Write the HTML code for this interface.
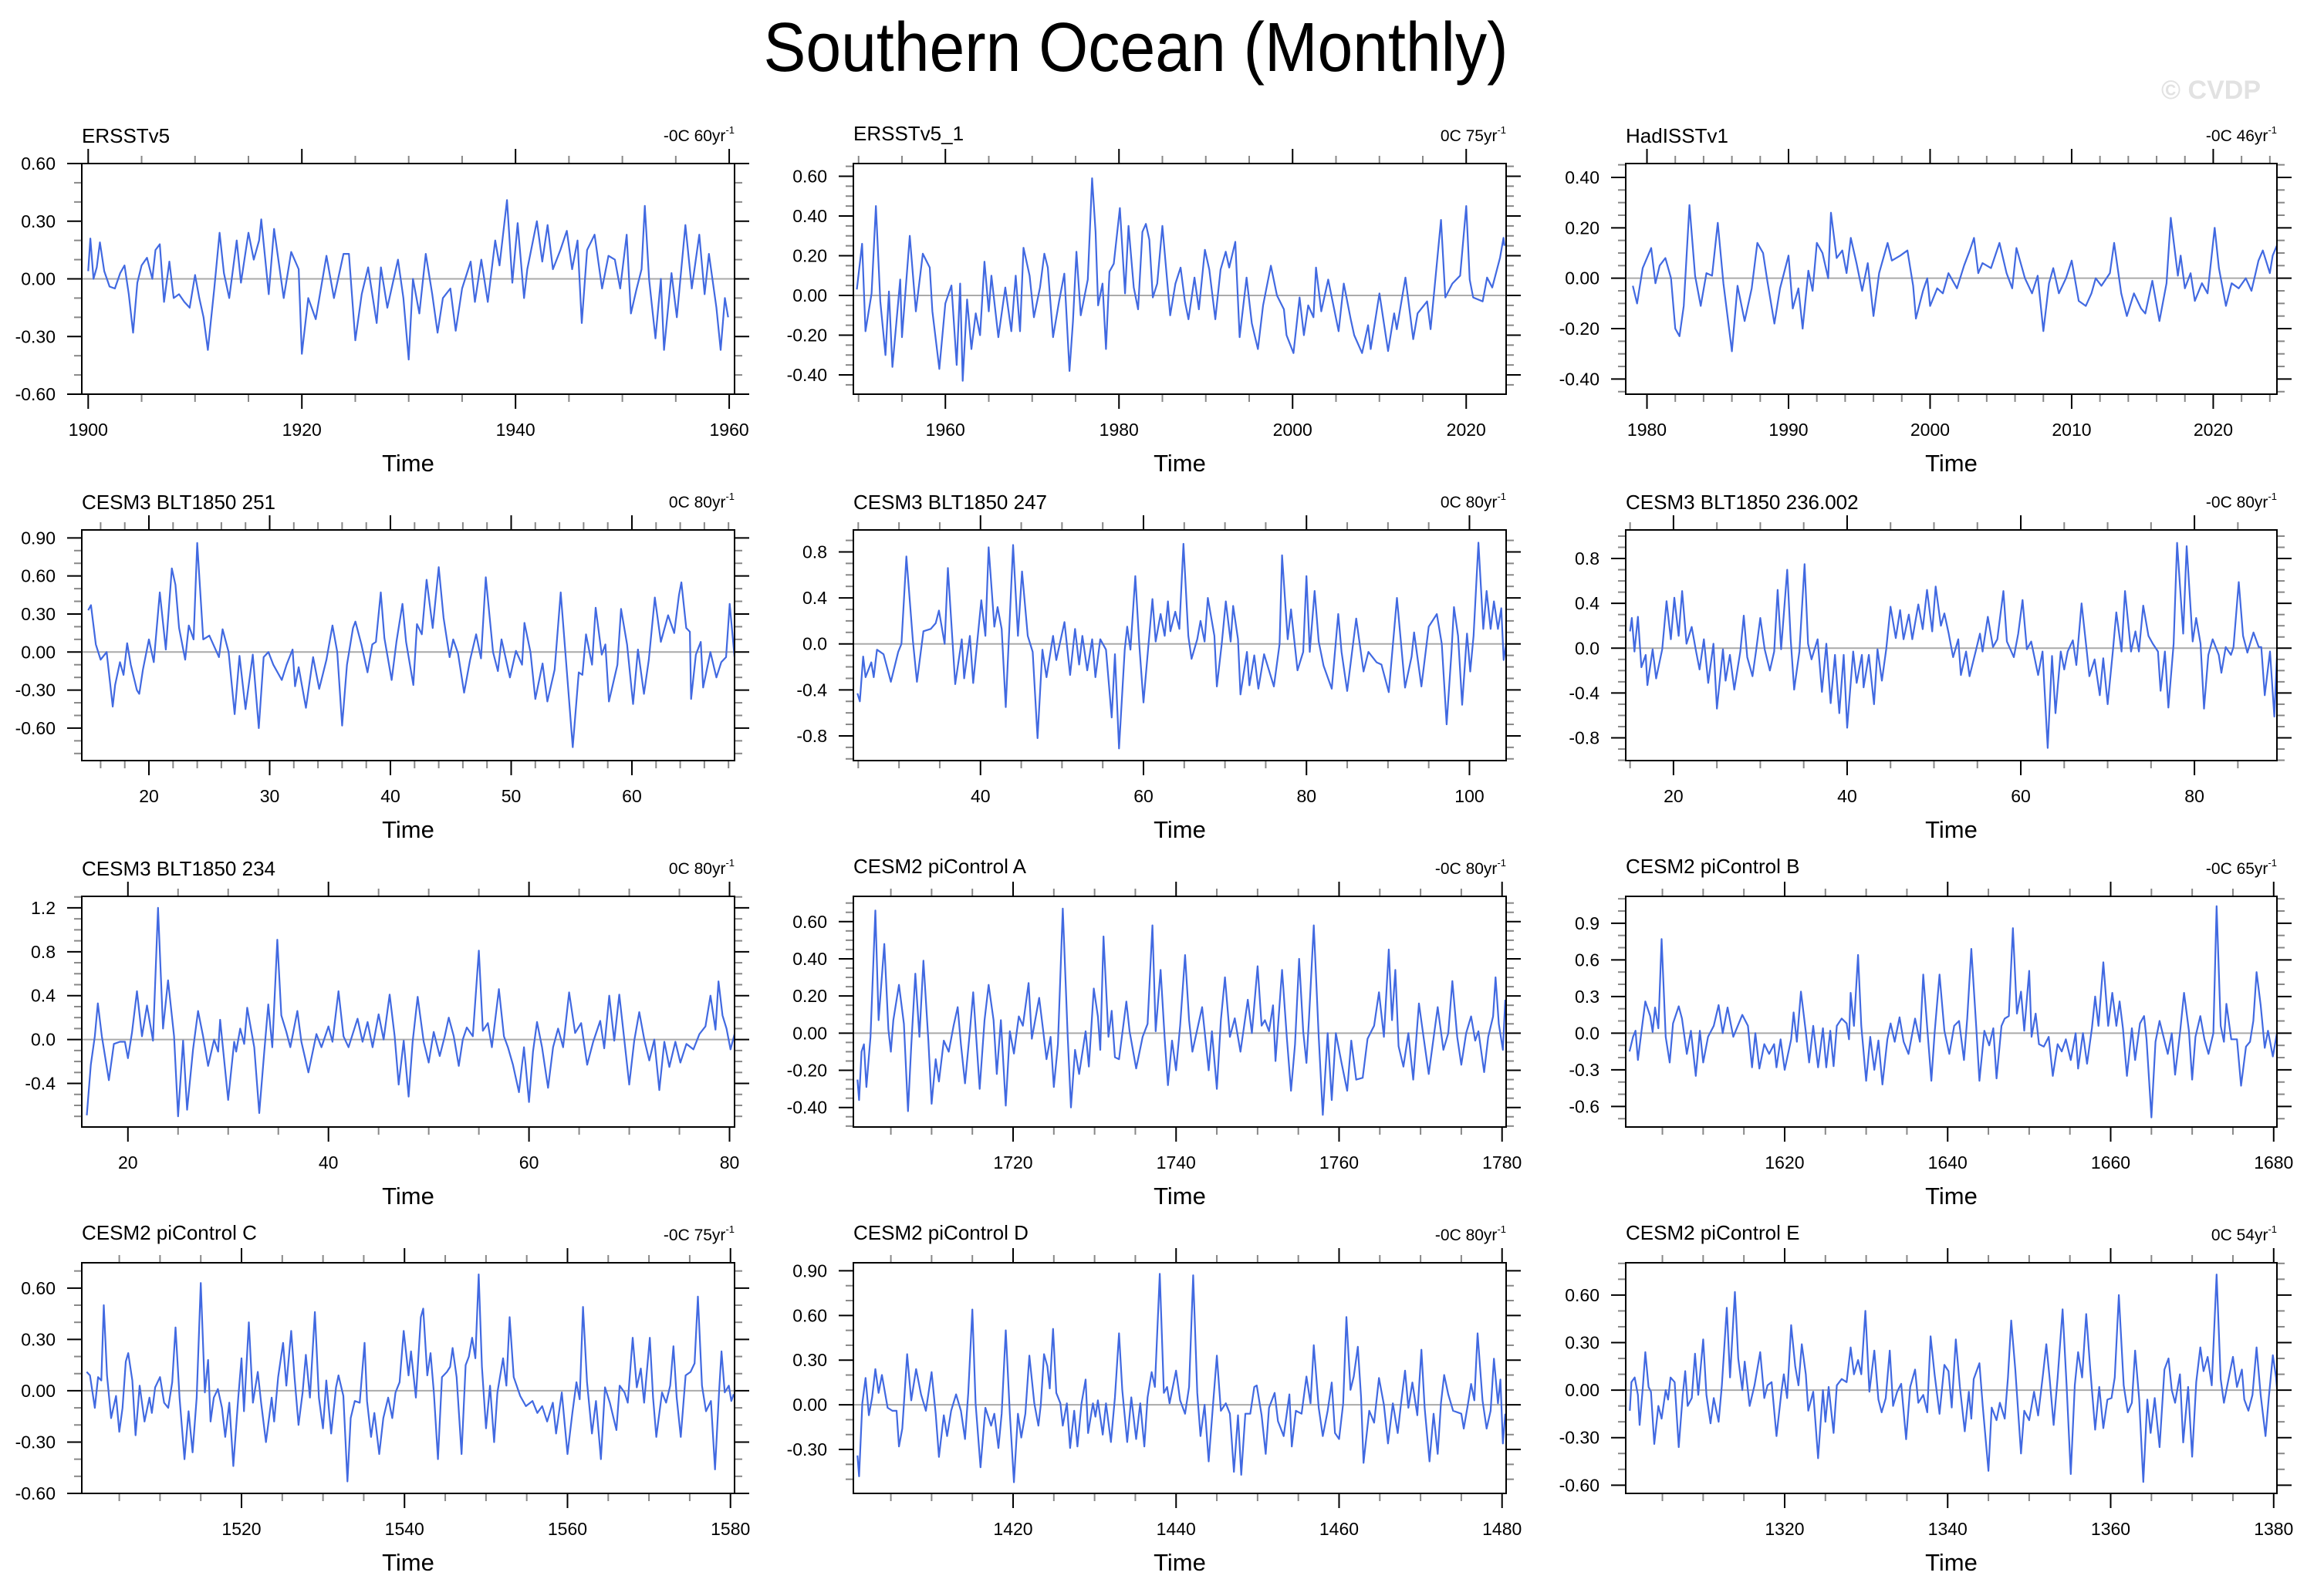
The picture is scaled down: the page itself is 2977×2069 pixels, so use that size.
<!DOCTYPE html>
<html><head><meta charset="utf-8"><title>Southern Ocean (Monthly)</title>
<style>
html,body{margin:0;padding:0;background:#fff;}
svg{display:block;font-family:"Liberation Sans",Arial,sans-serif;}
</style></head>
<body>
<svg id="chart" width="2977" height="2069" viewBox="0 0 2977 2069" xmlns="http://www.w3.org/2000/svg">
<rect width="2977" height="2069" fill="#fff"/>
<text x="1472" y="92" font-size="90" text-anchor="middle" textLength="965" lengthAdjust="spacingAndGlyphs" fill="#000">Southern Ocean (Monthly)</text>
<text x="2930" y="128" font-size="34" font-weight="bold" text-anchor="end" fill="#e2e2e2">© CVDP</text>
<g id="panels"></g>
</svg>
<script>
// ---- data: times (years) and anomaly values ----
const t1=[1900.0,1900.2,1900.5,1900.8,1901.1,1901.5,1902.0,1902.5,1903.0,1903.4,1903.8,1904.2,1904.6,1905.0,1905.5,1906.0,1906.3,1906.7,1907.1,1907.6,1908.0,1908.5,1909.0,1909.5,1910.0,1910.4,1910.8,1911.2,1911.8,1912.3,1912.7,1913.2,1913.9,1914.3,1915.0,1915.5,1916.0,1916.2,1916.9,1917.4,1918.3,1919.0,1919.7,1920.0,1920.6,1921.3,1922.3,1923.0,1923.9,1924.4,1925.0,1925.6,1926.2,1927.0,1927.4,1928.0,1929.0,1929.5,1930.0,1930.4,1931.0,1931.6,1932.2,1932.7,1933.2,1933.9,1934.4,1935.0,1935.8,1936.2,1936.8,1937.4,1938.1,1938.5,1939.2,1939.7,1940.2,1940.8,1941.1,1942.0,1942.5,1943.0,1943.5,1944.2,1944.8,1945.3,1945.8,1946.2,1946.7,1947.4,1948.1,1948.7,1949.3,1949.8,1950.4,1950.8,1951.3,1951.8,1952.1,1952.5,1953.1,1953.6,1953.9,1954.6,1955.1,1955.9,1956.5,1957.2,1957.7,1958.1,1958.8,1959.2,1959.6,1959.9];
const v1=[0.04,0.21,0.0,0.06,0.19,0.04,-0.04,-0.05,0.03,0.07,-0.08,-0.28,-0.02,0.07,0.11,0.0,0.15,0.18,-0.12,0.09,-0.10,-0.08,-0.12,-0.15,0.02,-0.10,-0.20,-0.37,-0.05,0.24,0.03,-0.10,0.20,-0.02,0.24,0.10,0.20,0.31,-0.08,0.26,-0.10,0.14,0.05,-0.39,-0.10,-0.21,0.12,-0.10,0.13,0.13,-0.32,-0.08,0.06,-0.23,0.06,-0.15,0.10,-0.10,-0.42,0.0,-0.18,0.13,-0.08,-0.28,-0.10,-0.05,-0.27,-0.05,0.09,-0.12,0.10,-0.12,0.20,0.07,0.41,-0.02,0.29,-0.10,0.05,0.30,0.09,0.28,0.05,0.15,0.25,0.05,0.20,-0.23,0.15,0.23,-0.05,0.12,0.10,-0.05,0.23,-0.18,-0.06,0.05,0.38,0.0,-0.31,0.0,-0.37,0.03,-0.20,0.28,-0.05,0.23,-0.08,0.13,-0.15,-0.37,-0.10,-0.20];

const t2=[1949.8,1950.4,1950.8,1951.5,1952.0,1952.5,1953.1,1953.5,1953.9,1954.8,1955.0,1955.9,1956.6,1957.4,1958.2,1958.5,1959.3,1960.0,1960.7,1961.3,1961.7,1962.0,1962.5,1963.0,1963.5,1964.0,1964.5,1965.0,1965.3,1966.1,1966.9,1967.6,1968.1,1968.6,1969.0,1969.7,1970.2,1970.9,1971.4,1971.8,1972.4,1973.1,1973.7,1974.3,1974.7,1975.1,1975.6,1976.4,1976.9,1977.3,1977.6,1978.1,1978.5,1978.9,1979.4,1980.1,1980.7,1981.1,1981.7,1982.2,1982.7,1983.1,1983.5,1983.9,1984.4,1985.0,1985.5,1985.9,1986.5,1987.1,1987.6,1988.0,1988.7,1989.2,1989.9,1990.4,1991.1,1991.7,1992.3,1992.7,1993.4,1993.9,1994.7,1995.3,1996.0,1996.6,1997.5,1998.2,1999.0,1999.3,2000.1,2000.8,2001.3,2001.8,2002.4,2002.7,2003.3,2004.1,2005.3,2005.9,2006.7,2007.1,2008.0,2008.7,2009.0,2010.0,2011.0,2011.7,2012.0,2013.0,2013.9,2014.4,2015.5,2015.9,2017.1,2017.6,2018.4,2019.3,2020.0,2020.4,2020.8,2021.9,2022.4,2023.0,2023.9,2024.3,2024.4];
const v2=[0.03,0.26,-0.18,0.01,0.45,-0.03,-0.30,0.02,-0.36,0.08,-0.21,0.30,-0.08,0.21,0.14,-0.08,-0.37,-0.04,0.05,-0.35,0.06,-0.43,-0.02,-0.27,-0.09,-0.20,0.17,-0.08,0.10,-0.21,0.04,-0.18,0.10,-0.18,0.24,0.10,-0.11,0.04,0.21,0.14,-0.21,-0.03,0.11,-0.38,-0.13,0.22,-0.10,0.08,0.59,0.32,-0.05,0.06,-0.27,0.12,0.16,0.44,0.01,0.35,0.04,-0.07,0.32,0.36,0.28,-0.01,0.06,0.35,0.10,-0.10,0.06,0.14,-0.03,-0.12,0.09,-0.07,0.23,0.13,-0.12,0.13,0.22,0.14,0.27,-0.21,0.09,-0.14,-0.27,-0.05,0.15,0.0,-0.07,-0.20,-0.29,-0.01,-0.20,-0.05,-0.11,0.14,-0.08,0.08,-0.18,0.06,-0.12,-0.20,-0.29,-0.15,-0.27,0.01,-0.28,-0.09,-0.17,0.09,-0.22,-0.09,-0.03,-0.17,0.38,-0.01,0.06,0.10,0.45,0.08,-0.01,-0.03,0.09,0.04,0.19,0.29,0.25];

const t3=[1979.0,1979.3,1979.7,1980.3,1980.6,1980.9,1981.3,1981.7,1982.0,1982.3,1982.6,1983.0,1983.4,1983.8,1984.2,1984.6,1985.0,1985.4,1986.0,1986.4,1986.9,1987.4,1987.8,1988.2,1988.5,1989.0,1989.4,1990.0,1990.3,1990.7,1991.0,1991.4,1991.7,1992.0,1992.4,1992.8,1993.0,1993.4,1993.8,1994.1,1994.4,1994.8,1995.2,1995.6,1996.0,1996.4,1997.0,1997.3,1997.9,1998.4,1998.8,1999.0,1999.5,1999.8,2000.0,2000.5,2000.9,2001.3,2001.9,2002.4,2002.8,2003.1,2003.4,2003.7,2004.3,2004.9,2005.4,2005.8,2006.1,2006.7,2007.2,2007.6,2008.0,2008.4,2008.7,2009.1,2009.6,2010.0,2010.5,2011.0,2011.4,2011.7,2012.1,2012.7,2013.0,2013.5,2013.9,2014.4,2014.9,2015.2,2015.7,2016.2,2016.7,2017.0,2017.5,2017.7,2018.0,2018.4,2018.7,2019.2,2019.6,2020.1,2020.4,2020.9,2021.3,2021.8,2022.3,2022.7,2023.2,2023.5,2024.0,2024.2,2024.5];
const v3=[-0.03,-0.10,0.04,0.12,-0.02,0.05,0.08,0.0,-0.20,-0.23,-0.11,0.29,0.01,-0.11,0.02,0.01,0.22,-0.02,-0.29,-0.03,-0.17,-0.04,0.14,0.10,-0.01,-0.18,-0.04,0.09,-0.12,-0.04,-0.20,0.03,-0.05,0.14,0.10,0.0,0.26,0.08,0.11,0.02,0.16,0.06,-0.05,0.06,-0.15,0.02,0.14,0.07,0.09,0.11,-0.03,-0.16,-0.05,0.0,-0.11,-0.04,-0.06,0.02,-0.04,0.05,0.11,0.16,0.02,0.06,0.04,0.14,0.02,-0.04,0.12,0.0,-0.06,0.01,-0.21,-0.02,0.04,-0.06,0.0,0.07,-0.09,-0.11,-0.06,0.0,-0.03,0.02,0.14,-0.06,-0.15,-0.06,-0.12,-0.14,-0.01,-0.17,-0.02,0.24,0.01,0.09,-0.04,0.02,-0.09,-0.02,-0.06,0.20,0.04,-0.11,-0.02,-0.04,0.0,-0.05,0.07,0.11,0.02,0.09,0.13];

const t4=[14.97,15.2,15.6,16.0,16.5,17.0,17.2,17.6,17.9,18.2,18.5,19.0,19.2,19.5,20.0,20.4,20.9,21.4,21.9,22.2,22.5,23.0,23.3,23.7,24.0,24.5,25.0,25.8,26.1,26.6,27.1,27.5,28.0,28.6,29.1,29.5,29.9,30.3,31.0,31.4,31.9,32.1,32.4,33.0,33.6,34.1,34.7,35.2,35.6,36.0,36.4,36.9,37.1,37.6,38.1,38.5,38.8,39.2,39.5,40.1,40.5,41.0,41.3,41.9,42.2,42.6,43.0,43.5,44.0,44.4,44.9,45.2,45.6,46.1,46.6,47.1,47.5,47.9,48.5,48.9,49.2,49.9,50.4,50.9,51.1,51.6,52.0,52.6,53.0,53.6,54.1,54.6,55.1,55.6,55.9,56.2,56.7,57.0,57.5,57.8,58.1,58.8,59.1,59.6,60.1,60.5,61.0,61.4,61.9,62.4,63.0,63.5,63.9,64.1,64.5,64.8,64.9,65.3,65.7,65.9,66.5,67.0,67.4,67.8,68.1,68.5];
const v4=[0.33,0.37,0.06,-0.06,0.0,-0.43,-0.26,-0.08,-0.18,0.07,-0.10,-0.30,-0.33,-0.14,0.10,-0.08,0.47,0.02,0.66,0.53,0.19,-0.06,0.21,0.10,0.86,0.10,0.13,-0.04,0.18,0.0,-0.49,-0.03,-0.45,-0.02,-0.60,-0.04,0.0,-0.10,-0.22,-0.10,0.02,-0.27,-0.12,-0.44,-0.04,-0.29,-0.06,0.21,0.0,-0.58,-0.10,0.19,0.24,0.06,-0.16,0.06,0.08,0.47,0.11,-0.22,0.08,0.38,0.08,-0.26,0.22,0.14,0.57,0.19,0.67,0.27,-0.04,0.10,-0.01,-0.32,-0.06,0.14,-0.05,0.59,0.0,-0.15,0.10,-0.20,0.01,-0.10,0.23,0.0,-0.37,-0.09,-0.39,-0.14,0.47,-0.14,-0.75,-0.16,-0.18,0.14,-0.10,0.35,-0.02,0.06,-0.39,-0.10,0.34,0.06,-0.41,0.02,-0.33,-0.06,0.43,0.08,0.29,0.15,0.45,0.55,0.19,0.16,-0.37,-0.02,0.08,-0.28,0.0,-0.20,-0.08,-0.04,0.38,-0.04];

const t5=[24.9,25.2,25.6,25.9,26.6,26.9,27.3,28.1,29.0,29.9,30.3,30.9,31.7,32.2,33.0,33.9,34.5,34.9,35.6,36.0,36.9,37.7,38.0,38.7,39.1,39.7,40.1,40.6,41.0,41.7,42.1,42.6,43.1,44.0,44.6,45.1,45.8,46.4,47.0,47.6,48.1,48.9,49.3,50.3,51.0,51.6,52.1,52.5,53.1,53.7,54.1,54.7,55.4,56.1,56.5,57.0,57.7,58.0,58.4,59.0,59.5,60.0,60.6,61.1,61.5,62.1,62.6,63.0,63.3,63.9,64.4,64.9,65.5,65.9,66.6,67.0,67.5,67.9,68.7,69.0,69.6,70.1,70.7,71.0,71.6,71.9,72.7,73.0,73.6,74.1,74.8,76.0,76.7,77.0,77.7,78.1,78.9,79.6,80.0,80.4,81.0,81.5,82.1,83.1,83.9,84.3,85.0,86.1,87.0,87.6,88.6,89.2,90.1,91.1,91.7,92.1,92.9,93.2,94.1,95.0,96.0,96.6,97.2,97.8,98.1,98.6,99.1,99.7,100.1,100.5,101.1,101.7,102.1,102.6,103.0,103.5,103.9,104.2,104.5];
const v5=[-0.43,-0.50,-0.11,-0.29,-0.16,-0.29,-0.05,-0.09,-0.33,-0.07,0.0,0.76,0.03,-0.33,0.11,0.13,0.18,0.29,0.0,0.66,-0.35,0.04,-0.30,0.07,-0.34,0.09,0.38,0.07,0.84,0.15,0.32,0.13,-0.55,0.86,0.07,0.63,0.07,-0.07,-0.82,-0.05,-0.29,0.07,-0.14,0.19,-0.27,0.13,-0.18,0.07,-0.23,0.04,-0.29,0.04,-0.05,-0.64,-0.09,-0.91,-0.05,0.15,-0.05,0.59,-0.02,-0.51,-0.02,0.39,0.02,0.26,0.07,0.37,0.11,0.28,0.13,0.87,0.07,-0.13,0.04,0.20,0.02,0.40,0.07,-0.37,0.0,0.37,0.02,0.33,0.04,-0.44,-0.07,-0.36,-0.10,-0.39,-0.09,-0.37,0.0,0.77,0.04,0.30,-0.23,-0.07,0.59,-0.07,0.46,0.02,-0.19,-0.39,0.26,-0.07,-0.41,0.22,-0.24,-0.07,-0.16,-0.18,-0.42,0.40,-0.07,-0.38,-0.11,0.10,-0.37,0.15,0.26,0.0,-0.70,-0.07,0.32,0.07,-0.53,0.09,-0.24,0.07,0.88,0.13,0.46,0.13,0.37,0.13,0.31,-0.14,0.0];

const t6=[15.0,15.2,15.5,15.9,16.3,16.8,17.0,17.6,18.0,18.7,19.2,19.7,20.1,20.6,21.0,21.5,22.1,22.6,23.0,23.5,24.0,24.6,25.0,25.7,26.0,26.5,27.0,27.7,28.1,28.5,29.1,29.5,30.0,30.5,31.1,31.6,32.0,32.4,33.1,33.5,33.9,34.5,35.1,35.5,35.9,36.6,37.1,37.6,38.1,38.6,39.1,39.6,40.0,40.7,41.1,41.7,41.9,42.5,43.1,43.5,44.0,44.5,45.0,45.6,46.1,46.5,47.1,47.5,48.2,48.7,49.2,49.8,50.2,50.8,51.2,51.7,52.2,52.8,53.1,53.7,54.1,54.8,55.3,55.6,56.2,56.8,57.3,58.0,58.4,59.2,59.7,60.2,60.7,61.2,62.0,62.5,63.1,63.6,64.0,64.6,65.0,65.4,66.0,66.4,67.0,67.6,67.9,68.5,69.1,69.5,70.0,70.6,71.0,71.6,72.0,72.7,73.2,73.6,74.1,74.7,75.2,75.8,76.1,76.6,77.0,77.6,78.0,78.7,79.1,79.8,80.2,80.7,81.1,81.6,82.1,82.8,83.1,83.6,84.2,84.5,85.1,85.6,86.1,86.8,87.4,87.7,88.1,88.7,89.2,89.5];
const v6=[0.15,0.27,-0.03,0.28,-0.17,-0.06,-0.33,-0.01,-0.27,-0.01,0.42,0.08,0.45,0.11,0.51,0.04,0.19,-0.03,-0.19,0.08,-0.31,0.04,-0.54,-0.01,-0.29,-0.06,-0.37,-0.03,0.29,-0.08,-0.25,-0.03,0.27,-0.01,-0.20,-0.03,0.52,-0.01,0.70,0.08,-0.37,-0.03,0.75,0.04,-0.10,0.08,-0.39,0.04,-0.49,-0.06,-0.58,-0.06,-0.71,-0.03,-0.31,-0.06,-0.35,-0.06,-0.50,-0.01,-0.29,-0.01,0.37,0.09,0.34,0.08,0.30,0.08,0.39,0.17,0.52,0.15,0.55,0.20,0.31,0.13,-0.08,0.08,-0.24,-0.03,-0.25,-0.03,0.13,-0.03,0.28,0.01,0.08,0.51,0.06,-0.08,0.13,0.43,-0.01,0.06,-0.24,-0.03,-0.89,-0.07,-0.58,-0.03,-0.19,-0.03,0.07,-0.15,0.40,-0.03,-0.25,-0.10,-0.42,-0.09,-0.50,-0.03,0.32,-0.03,0.51,-0.03,0.15,-0.03,0.38,0.11,0.04,-0.03,-0.38,-0.03,-0.53,0.04,0.94,0.13,0.91,0.06,0.27,0.04,-0.54,-0.06,0.08,-0.06,-0.22,0.01,-0.06,0.01,0.59,0.11,-0.04,0.14,0.01,0.01,-0.42,-0.03,-0.61,-0.08];

const t7=[15.9,16.3,16.7,17.0,17.4,18.1,18.6,19.2,19.7,20.0,20.4,20.9,21.4,21.9,22.5,23.0,23.5,24.0,24.6,25.0,25.5,25.9,26.5,27.0,27.5,28.0,28.6,29.0,29.2,30.0,30.6,30.8,31.2,31.6,31.9,32.6,33.1,33.6,34.0,34.4,34.9,35.3,35.8,36.2,36.9,37.3,38.0,38.8,39.3,40.0,40.4,41.0,41.5,42.0,42.9,43.4,43.9,44.4,45.0,45.5,46.1,46.6,47.0,47.5,48.0,48.4,48.9,49.5,50.0,50.5,51.1,51.6,52.0,52.5,53.0,53.4,53.8,54.4,55.0,55.4,55.9,56.3,57.0,57.5,57.9,58.4,59.0,59.5,60.0,60.4,60.8,61.3,61.9,62.4,62.9,63.4,64.0,64.6,65.2,65.8,66.4,67.1,67.5,68.0,68.5,69.0,69.5,70.0,70.5,71.0,71.5,72.0,72.5,73.0,73.5,74.0,74.6,75.1,75.7,76.4,77.0,77.6,78.1,78.6,78.9,79.3,79.7,80.1,80.5];
const v7=[-0.69,-0.23,0.03,0.33,0.03,-0.37,-0.04,-0.02,-0.02,-0.17,0.06,0.44,0.03,0.31,-0.01,1.20,0.10,0.54,0.03,-0.70,-0.01,-0.64,-0.09,0.26,0.03,-0.24,0.0,-0.11,0.18,-0.55,-0.02,-0.11,0.10,-0.04,0.29,-0.07,-0.67,-0.11,0.32,-0.07,0.91,0.22,0.07,-0.07,0.26,-0.02,-0.30,0.05,-0.07,0.12,-0.02,0.44,0.03,-0.07,0.19,-0.02,0.16,-0.07,0.23,0.0,0.41,0.03,-0.41,-0.01,-0.52,-0.02,0.39,-0.02,-0.21,0.07,-0.15,0.03,0.20,0.03,-0.24,0.0,0.11,0.03,0.81,0.08,0.15,-0.07,0.46,0.03,-0.07,-0.23,-0.48,-0.07,-0.57,-0.11,0.16,-0.07,-0.44,-0.07,0.10,-0.07,0.43,0.06,0.15,-0.23,-0.02,0.17,-0.08,0.40,-0.01,0.41,0.0,-0.41,-0.01,0.25,0.0,-0.19,0.0,-0.46,-0.02,-0.25,-0.02,-0.21,-0.04,-0.09,0.05,0.12,0.40,0.09,0.53,0.22,0.10,-0.09,0.05];

const t8=[1700.9,1701.1,1701.4,1701.7,1702.0,1702.5,1703.1,1703.5,1704.2,1704.7,1705.0,1705.3,1706.0,1706.6,1707.1,1707.5,1708.0,1708.5,1709.0,1709.6,1710.0,1710.5,1710.9,1711.5,1712.1,1712.7,1713.2,1713.6,1714.1,1714.7,1715.1,1715.9,1716.5,1717.0,1717.6,1718.0,1718.5,1719.1,1719.6,1720.1,1720.7,1721.2,1721.9,1722.3,1723.2,1723.7,1724.1,1724.6,1725.0,1725.5,1726.1,1726.7,1727.1,1727.6,1728.1,1728.9,1729.3,1729.9,1730.4,1730.7,1731.1,1731.7,1732.1,1732.5,1733.0,1733.9,1734.3,1735.1,1735.9,1736.5,1737.1,1737.5,1738.1,1738.6,1739.0,1739.5,1740.0,1740.5,1741.1,1741.6,1742.0,1742.6,1743.2,1744.0,1744.4,1745.0,1745.5,1746.0,1746.6,1747.2,1747.9,1748.8,1749.3,1750.0,1750.5,1750.9,1751.4,1751.9,1752.2,1753.0,1753.6,1754.1,1754.6,1755.1,1755.6,1756.0,1756.3,1756.9,1757.5,1758.0,1758.6,1759.1,1759.6,1760.3,1761.0,1761.5,1762.1,1762.9,1763.5,1764.3,1764.9,1765.5,1766.1,1766.5,1766.9,1767.3,1767.9,1768.5,1769.1,1769.8,1770.4,1771.0,1772.1,1772.8,1773.4,1773.9,1774.5,1775.0,1775.6,1776.2,1776.7,1777.1,1777.8,1778.3,1778.9,1779.2,1779.6,1780.1,1780.4];
const v8=[-0.25,-0.36,-0.10,-0.06,-0.29,-0.02,0.66,0.07,0.48,0.02,-0.10,0.07,0.26,0.05,-0.42,-0.07,0.32,-0.02,0.39,-0.04,-0.38,-0.14,-0.26,-0.04,-0.10,0.04,0.14,-0.06,-0.27,0.01,0.22,-0.30,0.07,0.26,0.07,-0.22,0.07,-0.39,0.01,-0.11,0.09,0.04,0.27,-0.03,0.19,0.01,-0.14,-0.02,-0.29,-0.06,0.67,-0.02,-0.40,-0.09,-0.22,0.01,-0.18,0.24,0.09,-0.09,0.52,-0.02,0.12,-0.13,-0.14,0.17,0.01,-0.19,-0.02,0.05,0.58,0.01,0.34,-0.03,-0.28,-0.04,-0.20,0.04,0.42,0.07,-0.10,0.02,0.14,-0.20,0.01,-0.30,0.07,0.30,-0.02,0.08,-0.10,0.18,0.0,0.36,0.04,0.07,0.01,0.15,-0.15,0.34,-0.03,-0.31,-0.06,0.40,0.01,-0.16,0.07,0.58,-0.02,-0.44,0.0,-0.36,0.0,-0.16,-0.31,-0.04,-0.25,-0.24,-0.03,0.04,0.22,-0.02,0.45,0.07,0.34,-0.07,-0.18,0.0,-0.25,0.16,-0.03,-0.22,0.14,-0.09,0.0,0.28,-0.02,-0.17,0.0,0.09,-0.04,0.01,-0.21,-0.02,0.09,0.30,0.05,-0.09,0.18];

const t9=[1600.96,1601.4,1601.7,1602.0,1602.4,1602.9,1603.5,1603.8,1604.1,1604.5,1604.9,1605.4,1605.9,1606.3,1607.0,1607.4,1608.0,1608.5,1609.1,1609.6,1610.0,1610.6,1611.3,1611.9,1612.4,1613.0,1613.7,1614.8,1615.5,1616.0,1616.4,1616.9,1617.5,1618.1,1618.7,1619.0,1619.5,1620.0,1620.8,1621.1,1621.5,1622.0,1622.6,1623.0,1623.5,1624.1,1624.7,1625.1,1625.6,1626.0,1626.4,1627.0,1627.6,1627.9,1628.1,1628.5,1629.0,1629.4,1630.0,1630.5,1631.0,1631.5,1632.0,1632.6,1633.0,1633.5,1634.1,1634.6,1635.2,1636.0,1636.6,1637.0,1637.5,1638.0,1638.4,1639.0,1639.6,1640.2,1640.8,1641.4,1642.0,1642.4,1642.9,1643.5,1643.9,1644.5,1645.1,1645.6,1646.0,1646.6,1647.0,1647.5,1648.0,1648.5,1649.0,1649.4,1650.0,1650.3,1650.8,1651.2,1651.8,1652.4,1652.9,1653.5,1654.0,1654.5,1655.1,1655.7,1656.0,1656.6,1657.1,1657.7,1658.1,1658.5,1659.1,1659.7,1660.2,1660.7,1661.1,1661.5,1662.0,1662.6,1663.0,1663.6,1664.1,1664.4,1665.0,1665.5,1666.0,1666.6,1667.0,1667.5,1667.9,1668.5,1669.0,1669.6,1670.0,1670.4,1671.0,1671.5,1672.0,1672.6,1673.0,1673.5,1673.9,1674.2,1674.8,1675.5,1676.0,1676.6,1677.1,1677.5,1677.9,1678.4,1678.9,1679.3,1679.9,1680.4];
const v9=[-0.15,-0.03,0.02,-0.22,0.0,0.26,0.14,0.01,0.21,0.04,0.77,-0.03,-0.24,0.08,0.22,0.12,-0.17,0.02,-0.35,0.02,-0.24,-0.03,0.06,0.23,0.0,0.21,-0.03,0.15,0.06,-0.28,0.0,-0.29,-0.09,-0.17,-0.09,-0.28,-0.05,-0.30,-0.05,0.17,-0.07,0.34,0.01,-0.24,0.06,-0.28,0.04,-0.28,0.02,-0.27,0.06,0.12,0.08,-0.05,0.33,0.06,0.64,0.06,-0.39,-0.03,-0.30,-0.06,-0.42,-0.05,0.08,-0.07,0.13,-0.07,-0.17,0.12,-0.07,0.48,0.04,-0.39,0.0,0.48,0.02,-0.17,0.06,0.10,-0.22,0.12,0.69,0.06,-0.39,0.02,-0.10,0.04,-0.37,0.06,0.12,0.14,0.86,0.16,0.34,0.02,0.51,-0.03,0.16,-0.09,-0.11,-0.03,-0.35,-0.09,-0.15,-0.05,-0.22,0.0,-0.29,0.0,-0.25,0.04,0.30,0.06,0.58,0.06,0.33,0.06,0.26,0.04,-0.35,0.04,-0.22,0.08,0.14,-0.05,-0.69,-0.07,0.10,-0.06,-0.17,0.0,-0.34,0.0,0.33,0.02,-0.38,-0.03,0.14,-0.05,-0.17,0.0,1.04,0.06,-0.07,0.24,-0.05,-0.05,-0.43,-0.11,-0.07,0.10,0.50,0.23,-0.12,0.02,-0.19,0.0];

const t10=[1501.0,1501.4,1502.0,1502.4,1502.8,1503.1,1503.5,1504.0,1504.6,1505.0,1505.4,1505.8,1506.1,1506.6,1507.0,1507.5,1508.1,1508.7,1509.0,1509.4,1510.0,1510.5,1511.0,1511.5,1511.9,1512.4,1513.0,1513.5,1514.0,1514.5,1515.0,1515.5,1515.9,1516.2,1516.6,1517.1,1517.6,1518.0,1518.5,1519.0,1519.6,1520.0,1520.3,1520.9,1521.4,1522.0,1522.4,1523.0,1523.7,1524.0,1524.5,1525.1,1525.5,1526.1,1526.5,1527.0,1527.5,1527.9,1528.4,1529.0,1529.5,1530.0,1530.4,1531.0,1531.6,1531.9,1532.5,1533.0,1533.4,1533.9,1534.5,1535.1,1535.4,1535.9,1536.3,1536.9,1537.4,1538.0,1538.5,1538.9,1539.4,1539.9,1540.5,1540.8,1541.4,1542.0,1542.3,1542.8,1543.2,1543.6,1544.1,1544.6,1545.2,1545.6,1545.9,1546.4,1547.0,1547.5,1547.9,1548.3,1548.7,1549.1,1549.5,1550.0,1550.5,1551.0,1551.4,1552.1,1552.5,1552.9,1553.4,1554.2,1554.9,1555.7,1556.3,1556.9,1557.5,1558.2,1558.6,1559.3,1560.0,1560.6,1561.1,1561.5,1561.9,1562.4,1563.0,1563.5,1564.1,1564.6,1565.2,1566.0,1566.4,1567.0,1567.4,1568.0,1568.5,1569.0,1569.4,1570.1,1570.5,1570.9,1571.6,1572.1,1572.6,1573.0,1573.4,1573.9,1574.5,1575.1,1575.6,1576.0,1576.5,1577.0,1577.6,1578.1,1578.6,1578.9,1579.3,1579.8,1580.1,1580.4];
const v10=[0.11,0.09,-0.10,0.08,0.06,0.50,0.09,-0.16,-0.03,-0.24,-0.10,0.17,0.22,0.06,-0.26,0.03,-0.18,-0.04,-0.13,0.02,0.08,-0.07,-0.10,0.05,0.37,-0.04,-0.40,-0.12,-0.36,-0.04,0.63,-0.01,0.18,-0.18,-0.04,0.01,-0.10,-0.27,-0.07,-0.44,-0.04,0.19,-0.12,0.40,-0.07,0.11,-0.07,-0.30,-0.04,-0.18,0.08,0.28,0.03,0.35,0.08,-0.20,-0.01,0.21,-0.04,0.46,-0.04,-0.22,0.06,-0.25,0.02,0.09,-0.03,-0.53,-0.16,-0.06,-0.07,0.28,-0.06,-0.27,-0.13,-0.37,-0.16,-0.04,-0.16,-0.01,0.05,0.35,0.09,0.23,-0.04,0.43,0.48,0.09,0.22,-0.01,-0.40,0.08,0.11,0.14,0.25,0.08,-0.37,0.15,0.20,0.31,0.19,0.68,0.14,-0.22,0.03,-0.30,-0.01,0.19,0.03,0.43,0.08,-0.03,-0.09,-0.06,-0.13,-0.09,-0.18,-0.07,-0.25,-0.01,-0.37,-0.13,0.05,-0.05,0.49,0.05,-0.25,-0.06,-0.40,0.02,-0.07,-0.23,0.03,-0.01,-0.07,0.31,0.02,0.13,-0.07,0.31,-0.04,-0.27,-0.01,-0.07,0.03,0.26,-0.04,-0.27,0.09,0.11,0.16,0.55,0.03,-0.12,-0.06,-0.46,-0.01,0.23,-0.01,0.03,-0.06,-0.02];

const t11=[1400.9,1401.1,1401.5,1401.9,1402.3,1402.7,1403.1,1403.5,1403.9,1404.6,1405.2,1405.7,1406.0,1406.4,1407.0,1407.5,1408.1,1408.7,1409.3,1410.0,1410.5,1410.9,1411.5,1411.9,1412.4,1413.0,1413.6,1414.1,1414.5,1415.0,1415.4,1416.0,1416.6,1417.3,1417.7,1418.2,1418.6,1419.1,1419.6,1420.1,1420.6,1421.0,1421.5,1422.0,1422.6,1423.1,1423.4,1423.8,1424.2,1424.5,1424.9,1425.3,1425.8,1426.1,1426.6,1427.0,1427.5,1427.9,1428.4,1428.9,1429.2,1429.8,1430.1,1430.4,1431.0,1431.4,1432.0,1432.5,1433.0,1433.4,1434.0,1434.5,1435.1,1435.6,1436.1,1436.5,1437.0,1437.4,1438.0,1438.5,1438.9,1439.2,1440.0,1440.5,1441.1,1441.6,1442.1,1442.6,1443.0,1443.5,1444.0,1444.5,1445.0,1445.5,1446.1,1446.6,1447.1,1447.6,1448.0,1448.5,1449.1,1449.6,1449.9,1450.5,1451.0,1451.4,1452.1,1452.5,1453.2,1453.9,1454.2,1454.7,1455.4,1456.0,1456.5,1456.9,1457.5,1458.0,1458.6,1459.1,1459.5,1460.0,1460.5,1460.9,1461.4,1461.8,1462.3,1462.7,1463.0,1463.7,1464.3,1464.9,1465.5,1466.0,1466.6,1467.2,1467.6,1468.1,1468.5,1469.0,1469.6,1470.1,1470.5,1471.1,1471.6,1472.1,1472.5,1472.9,1473.4,1474.0,1475.0,1475.3,1475.8,1476.2,1476.6,1477.0,1477.6,1478.1,1478.6,1479.0,1479.5,1479.8,1480.1,1480.4];
const v11=[-0.34,-0.48,0.01,0.18,-0.07,0.05,0.24,0.08,0.20,-0.02,-0.04,-0.04,-0.28,-0.16,0.34,0.03,0.24,0.07,-0.04,0.22,-0.06,-0.35,-0.07,-0.21,-0.04,0.07,-0.04,-0.23,0.08,0.64,0.01,-0.42,-0.02,-0.14,-0.06,-0.29,-0.06,0.50,-0.06,-0.52,-0.06,-0.22,-0.06,0.33,0.01,-0.14,0.0,0.34,0.26,0.11,0.51,0.08,0.01,-0.14,0.01,-0.29,-0.04,-0.28,0.01,0.17,-0.19,0.01,-0.08,0.03,-0.20,0.01,-0.25,0.05,0.48,0.10,-0.25,0.05,-0.23,0.01,-0.28,0.05,0.22,0.12,0.88,0.08,0.12,0.01,0.23,0.03,-0.06,0.12,0.87,0.08,-0.21,0.0,-0.38,-0.02,0.33,-0.04,0.01,-0.06,-0.45,-0.07,-0.47,-0.06,-0.06,0.12,0.13,-0.07,-0.33,-0.02,0.08,-0.11,-0.21,0.07,-0.28,-0.04,-0.06,0.19,0.01,0.40,-0.02,-0.21,-0.04,0.15,-0.19,-0.23,0.01,0.59,0.10,0.19,0.39,0.05,-0.39,-0.04,-0.12,0.18,0.0,-0.26,0.01,-0.19,0.01,0.23,-0.02,0.15,-0.07,0.37,-0.02,-0.38,-0.06,-0.33,0.01,0.20,0.07,-0.04,-0.06,-0.16,0.0,0.14,0.03,0.48,0.03,-0.16,-0.04,0.31,0.01,0.17,-0.26,-0.06];

const t12=[1301.0,1301.2,1301.6,1302.0,1302.2,1302.6,1302.9,1303.3,1303.6,1304.0,1304.5,1304.9,1305.4,1305.7,1306.0,1306.5,1307.0,1307.5,1307.8,1308.1,1308.6,1309.0,1309.4,1310.0,1310.4,1310.9,1311.3,1311.9,1312.3,1312.9,1313.3,1313.9,1314.3,1314.8,1315.1,1315.7,1316.3,1317.0,1317.5,1317.9,1318.4,1319.0,1319.6,1319.9,1320.3,1320.8,1321.3,1321.7,1322.1,1322.6,1322.9,1323.5,1324.1,1324.7,1325.0,1325.4,1326.0,1326.4,1327.0,1327.6,1328.1,1328.5,1329.0,1329.4,1329.9,1330.4,1331.0,1331.5,1331.9,1332.4,1332.9,1333.3,1333.8,1334.3,1334.9,1335.4,1336.0,1336.4,1337.0,1337.5,1337.9,1338.4,1339.0,1339.6,1340.1,1340.5,1341.0,1341.5,1342.1,1342.6,1342.9,1343.2,1343.9,1344.3,1345.0,1345.4,1346.0,1346.4,1347.0,1347.4,1347.8,1348.3,1349.0,1349.4,1350.0,1350.6,1351.1,1351.7,1352.1,1352.5,1353.0,1353.5,1354.1,1354.6,1355.1,1355.6,1356.0,1356.5,1357.0,1357.5,1358.1,1358.6,1359.1,1359.6,1360.1,1360.5,1361.0,1361.6,1362.1,1362.6,1363.0,1363.5,1364.0,1364.5,1364.9,1365.4,1366.0,1366.6,1367.1,1367.5,1367.9,1368.5,1368.9,1369.5,1370.0,1370.5,1371.0,1371.4,1371.9,1372.4,1373.0,1373.5,1373.9,1374.5,1375.0,1375.5,1376.1,1376.4,1376.9,1377.4,1377.9,1378.4,1379.0,1379.4,1379.9,1380.3,1380.5];
const v12=[-0.13,0.05,0.08,-0.03,-0.22,0.02,0.24,0.02,-0.01,-0.34,-0.10,-0.18,0.0,-0.06,0.08,0.05,-0.36,-0.03,0.12,-0.10,-0.05,0.23,-0.03,0.32,-0.03,-0.21,-0.05,-0.20,0.03,0.52,0.08,0.62,0.20,0.0,0.18,-0.10,0.03,0.24,-0.05,0.03,0.05,-0.29,-0.01,0.10,-0.05,0.41,0.15,0.03,0.29,0.10,-0.13,-0.01,-0.43,0.0,-0.20,0.02,-0.27,0.03,0.07,0.05,0.27,0.10,0.19,0.10,0.50,-0.01,0.25,-0.06,-0.14,-0.05,0.25,-0.10,-0.01,0.04,-0.31,0.02,0.13,-0.08,-0.03,-0.14,0.34,0.10,-0.15,0.16,0.12,-0.11,0.32,0.02,-0.26,-0.01,-0.18,0.07,0.17,-0.10,-0.51,-0.11,-0.19,-0.08,-0.18,0.08,0.44,0.13,-0.40,-0.13,-0.19,-0.01,-0.16,0.10,0.29,0.08,-0.22,0.08,0.51,0.02,-0.53,0.03,0.24,0.08,0.48,0.13,-0.25,0.02,-0.24,-0.06,-0.05,0.08,0.60,0.03,-0.14,-0.08,0.25,-0.06,-0.58,-0.06,-0.27,-0.05,-0.36,0.13,0.20,0.0,-0.08,0.10,-0.33,0.02,-0.42,0.05,0.27,0.12,0.21,0.03,0.73,0.07,-0.08,0.08,0.21,0.02,0.13,-0.06,-0.13,-0.03,0.27,-0.03,-0.29,-0.05,0.22,0.08,-0.05];

// ---- panel metadata ----
const panelTitles=["ERSSTv5","ERSSTv5_1","HadISSTv1","CESM3 BLT1850 251","CESM3 BLT1850 247","CESM3 BLT1850 236.002","CESM3 BLT1850 234","CESM2 piControl A","CESM2 piControl B","CESM2 piControl C","CESM2 piControl D","CESM2 piControl E"];
const trendLabels=["-0C 60yr","0C 75yr","-0C 46yr","0C 80yr","0C 80yr","-0C 80yr","0C 80yr","-0C 80yr","-0C 65yr","-0C 75yr","-0C 80yr","0C 54yr"];
const xDomains=[[1899.4,1960.5],[1949.4,2024.6],[1978.5,2024.5],[14.44,68.5],[24.4,104.5],[14.5,89.5],[15.4,80.5],[1700.4,1780.5],[1600.5,1680.4],[1500.4,1580.5],[1400.4,1480.5],[1300.5,1380.4]];
const yDomains=[[-0.6,0.6],[-0.497,0.664],[-0.46,0.455],[-0.856,0.963],[-1.015,0.991],[-1.003,1.055],[-0.797,1.305],[-0.505,0.736],[-0.768,1.12],[-0.6,0.748],[-0.595,0.954],[-0.652,0.804]];
const yMajor=[0.3,0.2,0.2,0.3,0.4,0.4,0.4,0.2,0.3,0.3,0.3,0.3];
const yMinor=[0.1,0.05,0.05,0.1,0.1,0.1,0.1,0.05,0.1,0.1,0.1,0.1];
const yDec=[2,2,2,2,1,1,1,2,1,2,2,2];
const xMajor=[20,20,10,10,20,20,20,20,20,20,20,20];
const xMinor=[5,5,2,2,5,5,5,5,5,5,5,5];
const titleRaise=[0,3,0,0,0,0,0,3,3,3,3,3];
const seriesT=[t1,t2,t3,t4,t5,t6,t7,t8,t9,t10,t11,t12];
const seriesV=[v1,v2,v3,v4,v5,v6,v7,v8,v9,v10,v11,v12];

const NS="http://www.w3.org/2000/svg";
const root=document.getElementById('panels');
const colLeft=[106,1106,2107], colWidth=[846,846,844];
const rowTop=[212,687,1162,1637], boxH=299;
function mk(tag,attrs,parent){const e=document.createElementNS(NS,tag);for(const k in attrs)e.setAttribute(k,attrs[k]);parent.appendChild(e);return e;}
function nice(v){return Math.round(v*1e6)/1e6;}

for(let p=0;p<12;p++){
  const L=colLeft[p%3], W=colWidth[p%3], T=rowTop[Math.floor(p/3)], H=boxH, R=L+W, B=T+H;
  const [x0,x1]=xDomains[p], [y0,y1]=yDomains[p];
  const sx=v=>L+(v-x0)/(x1-x0)*W;
  const sy=v=>B-(v-y0)/(y1-y0)*H;
  const g=mk('g',{},root);
  
  
  const tk=mk('g',{},g);
  
  
  for(let v=Math.ceil(nice(y0/yMinor[p]))*yMinor[p]; v<=y1+1e-9; v+=yMinor[p]){
    const vv=nice(v), isMaj=Math.abs(vv/yMajor[p]-Math.round(vv/yMajor[p]))<1e-6;
    const len=isMaj?19:10, col=isMaj?'#000':'#888', y=sy(vv);
    mk('line',{x1:L-len,y1:y,x2:L,y2:y,stroke:col,'stroke-width':2},tk);
    mk('line',{x1:R,y1:y,x2:R+len,y2:y,stroke:col,'stroke-width':2},tk);
    if(isMaj){
      const lab=mk('text',{x:L-34,y:y+8,'font-size':23,'text-anchor':'end',fill:'#000'},g);
      lab.textContent=vv.toFixed(yDec[p]);
      
      
    }
  }
  for(let v=Math.ceil(x0/xMinor[p])*xMinor[p]; v<=x1+1e-9; v+=xMinor[p]){
    const isMaj=(Math.round(v)%xMajor[p])===0;
    const len=isMaj?19:10, col=isMaj?'#000':'#888', x=sx(v);
    mk('line',{x1:x,y1:B,x2:x,y2:B+len,stroke:col,'stroke-width':2},tk);
    mk('line',{x1:x,y1:T-len,x2:x,y2:T,stroke:col,'stroke-width':2},tk);
    if(isMaj){
      const lab=mk('text',{x:x,y:B+54,'font-size':23,'text-anchor':'middle',fill:'#000'},g);
      lab.textContent=String(Math.round(v));
      
      
    }
  }
  const cp=mk('clipPath',{id:'clip'+p},g);
  mk('rect',{x:L,y:T,width:W,height:H},cp);
  const zl=mk('line',{x1:L,y1:sy(0),x2:R,y2:sy(0),stroke:'#aaaaaa','stroke-width':2},g);
  
  
  const ts=seriesT[p], vs=seriesV[p];
  let d='';
  for(let i=0;i<ts.length;i++){d+=(i?'L':'M')+sx(ts[i]).toFixed(1)+','+sy(vs[i]).toFixed(1);}
  const path=mk('path',{d:d,fill:'none',stroke:'#4169E1','stroke-width':2.2,'stroke-linejoin':'round','clip-path':'url(#clip'+p+')'},g);
  
  
  const box=mk('rect',{x:L,y:T,width:W,height:H,fill:'none',stroke:'#000','stroke-width':2},g);
  
  
  const ti=mk('text',{x:L,y:T-27-titleRaise[p],'font-size':26,fill:'#000'},g);
  ti.textContent=panelTitles[p];
  
  
  const tr=mk('text',{x:R,y:T-29,'font-size':21,'text-anchor':'end',fill:'#000'},g);
  
  
  const s1=mk('tspan',{},tr); s1.textContent=trendLabels[p];
  const s2=mk('tspan',{dy:-10,'font-size':13},tr); s2.textContent='-1';
  const xt=mk('text',{x:L+W/2,y:B+100,'font-size':31,'text-anchor':'middle',fill:'#000'},g);
  xt.textContent='Time';
  
  
}
</script>
</body></html>
